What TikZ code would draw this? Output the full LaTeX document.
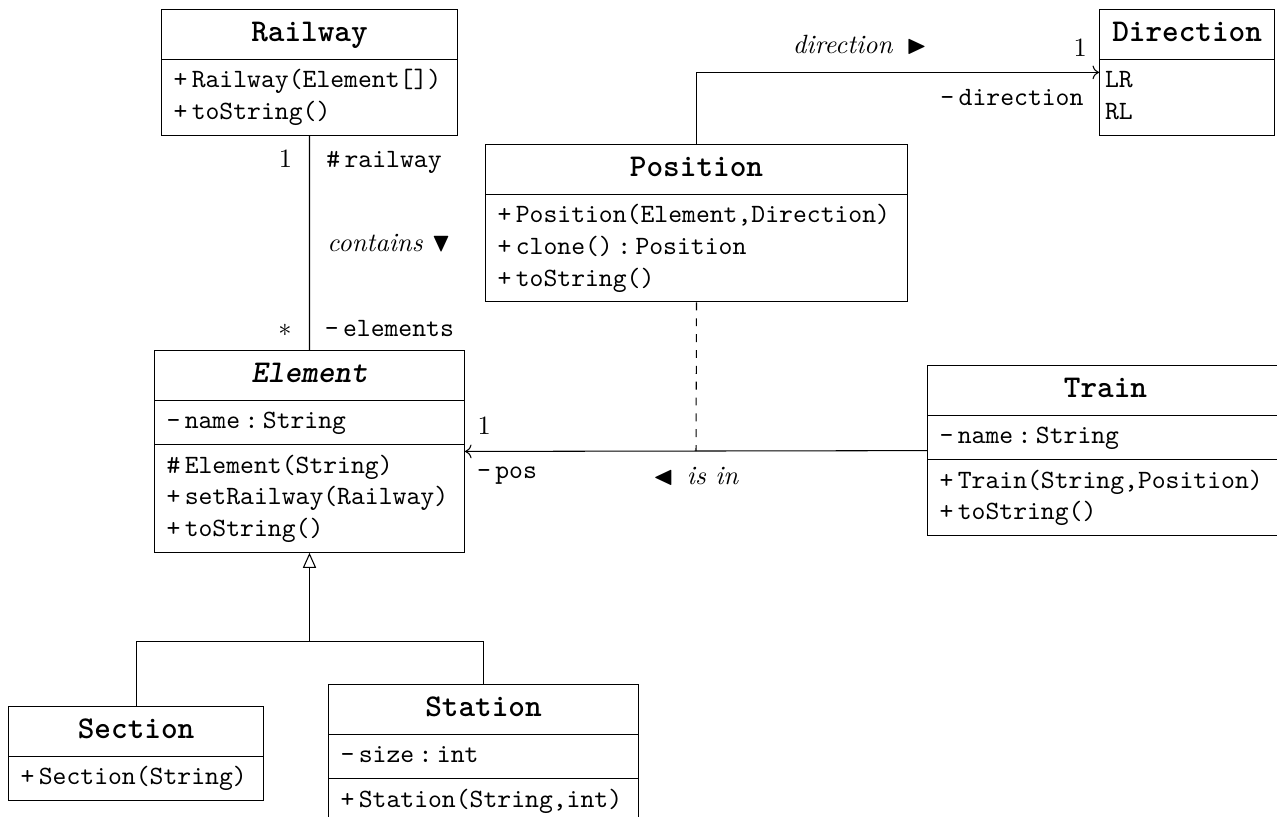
\documentclass[tikz,border=0pt]{standalone}
\usepackage{amssymb}
\usepackage{amsmath}
\usepackage{tikz}
\usetikzlibrary{shapes.multipart, arrows.meta, calc, positioning}

\newcommand{\clname}[1]{\hfill{\large\bfseries\strut#1}\hfill\null}
\newcommand{\mem}[2]{\makebox[7.7pt][r]{#1}\,#2\strut}

\begin{document}
\begin{tikzpicture}[
		umlclass/.style={draw, rectangle split, rectangle split parts=#1, anchor=north west, inner xsep=2.1pt, inner ysep=2.2pt, font=\ttfamily, align=left},
		role/.style={inner sep=0pt, font=\ttfamily},
		mult/.style={inner sep=0pt},
		assoc/.style={->},
		inherit/.style={-{Triangle[open,length=5.7pt,width=5pt]}}
	]
		\useasboundingbox (0,0) rectangle (17.0,10.864);
		
		\node(railway)   [umlclass=2, text width=107.9pt] at (2.143,10.744) {\clname{Railway}\nodepart{two}\mem{+}{Railway(Element[])}\\\mem{+}{toString()}};
		\node(direction) [umlclass=2, text width=62.1pt]  at (14.631,10.744) {\clname{Direction}\nodepart{two}LR\strut\\RL\strut};
		\node(position)  [umlclass=2, text width=155.6pt] at (6.457,8.946) {\clname{Position}\nodepart{two}\mem{+}{Position(Element,Direction)}\\\mem{+}{clone()\,:\,Position}\\\mem{+}{toString()}};
		\node(element)   [umlclass=3, text width=113.2pt] at (2.050,6.204) {\clname{\itshape Element}\nodepart{two}\mem{-}{name\,:\,String}\nodepart{three}\mem{\#}{Element(String)}\\\mem{+}{setRailway(Railway)}\\\mem{+}{toString()}};
		\node(train)     [umlclass=3, text width=130.6pt] at (12.341,6.004) {\clname{Train}\nodepart{two}\mem{-}{name\,:\,String}\nodepart{three}\mem{+}{Train(String,Position)}\\\mem{+}{toString()}};
		\node(section)   [umlclass=2, text width=92.4pt]  at (0.107,1.464) {\clname{Section}\nodepart{two}\mem{+}{Section(String)}};
		\node(station)   [umlclass=3, text width=113.2pt] at (4.367,1.757) {\clname{Station}\nodepart{two}\mem{-}{size\,:\,int}\nodepart{three}\mem{+}{Station(String,int)}};
		
		\draw (railway.south) -- (element.north)
			node[mult, at start, anchor=base east, xshift=-6.4pt, yshift=-12.1pt] {$1$}
			node[role, at start, anchor=base west, xshift=6.2pt, yshift=-12.1pt] {\#\,railway}
			node[midway, anchor=west, xshift=6.6pt, inner sep=0pt] {\textit{contains} $\blacktriangledown$}
			node[mult, at end, anchor=base east, xshift=-6.6pt, yshift=5.3pt] {$*$}
			node[role, at end, anchor=base west, xshift=5.6pt, yshift=5.3pt] {-\,elements};
		\draw[assoc] (position.north) |- (direction.west)
			node[pos=0.703, anchor=base, yshift=7.2pt, inner sep=0pt] {\textit{direction}\enspace$\blacktriangleright$}
			node[mult, at end, anchor=base east, xshift=-4.4pt, yshift=6pt] {$1$}
			node[role, at end, anchor=base east, xshift=-5.7pt, yshift=-12.5pt] {-\,direction};
		\draw[assoc] (train.west) -- (element.east)
			coordinate[midway] (isin)
			node[midway, anchor=base, yshift=-12.5pt, inner sep=0pt] {$\blacktriangleleft$\enspace\textit{is in}}
			node[mult, at end, anchor=base west, xshift=4.6pt, yshift=6.4pt] {$1$}
			node[role, at end, anchor=base west, xshift=4.4pt, yshift=-10.2pt] {-\,pos};
		\draw[dashed] (position.south) -- (isin);
		
		\coordinate(fork) at ($(element.south)+(0,-33.7pt)$);
		\draw[inherit] (fork) -- (element.south);
		\draw (section.north) |- (fork) -| (station.north);
		\end{tikzpicture}
\end{document}
